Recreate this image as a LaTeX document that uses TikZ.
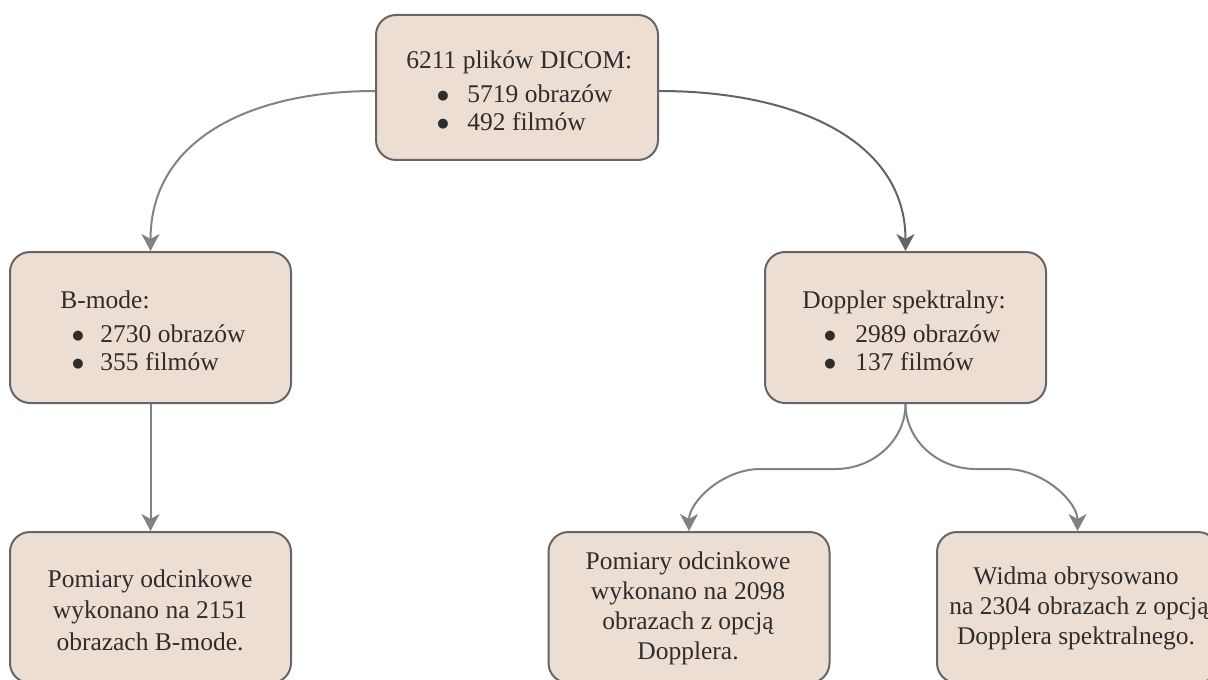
\documentclass[tikz,border=0pt]{standalone}
\usepackage{fontspec}
\setmainfont{Liberation Serif}
\newfontfamily\symfont{DejaVu Sans}
\usetikzlibrary{arrows.meta}
\definecolor{boxfill}{RGB}{237,222,212}
\definecolor{boxline}{RGB}{102,102,102}
\definecolor{connlight}{RGB}{130,130,130}
\definecolor{conndark}{RGB}{100,100,100}
\definecolor{txt}{RGB}{45,45,45}
\newcommand\bulitem[2]{\hspace*{#1}\makebox[#2][l]{\raisebox{1.5pt}{\symfont\fontsize{6.5pt}{6.5pt}\selectfont ●}}}
\tikzset{
  box/.style={draw=boxline, fill=boxfill, line width=1pt, rounded corners=10pt,
    minimum width=140.5pt, minimum height=75.5pt, inner sep=0pt},
  listtxt/.style={text=txt, inner sep=0pt, align=left, anchor=north west,
    font=\fontsize{12.75pt}{13.75pt}\selectfont},
  ctxt/.style={text=txt, inner sep=0pt, align=center, anchor=center,
    font=\fontsize{12.75pt}{15pt}\selectfont},
  conn/.style={draw=#1, line width=1pt,
    -{Stealth[length=8.5pt,width=9pt,inset=2.5pt,fill=#1]}},
}
\begin{document}
\begin{tikzpicture}[x=0.5pt,y=-0.5pt]
\useasboundingbox (0,0) rectangle (1208,679);
\clip (0,0) rectangle (1208,679);
% boxes
\node[box, minimum width=141pt, minimum height=72.5pt] (top) at (517,87.5) {};
\node[box] (bmode) at (150.5,327.5) {};
\node[box] (dop) at (905.5,327.5) {};
\node[box] (bl) at (150.5,607.5) {};
\node[box] (bm) at (689,607.5) {};
\node[box] (br) at (1077.5,607.5) {};
% texts
\node[listtxt] (toptext) at (406,50.6) {6211 plików DICOM:\\[3.25pt]\bulitem{15.5pt}{15pt}5719 obrazów\\\bulitem{15.5pt}{15pt}492 filmów};
\node[listtxt] (bmodetext) at (60,290.6) {B-mode:\\[3.25pt]\bulitem{6pt}{14pt}2730 obrazów\\\bulitem{6pt}{14pt}355 filmów};
\node[listtxt] (doptext) at (802,290.6) {Doppler spektralny:\\[3.25pt]\bulitem{11pt}{15.5pt}2989 obrazów\\\bulitem{11pt}{15.5pt}137 filmów};
\node[ctxt, font=\fontsize{12.75pt}{15.75pt}\selectfont] (bltext) at (150,610.3) {Pomiary odcinkowe\\wykonano na 2151\\obrazach B-mode.};
\node[ctxt] (bmtext) at (688,608.8) {Pomiary odcinkowe\\wykonano na 2098\\obrazach z opcją\\Dopplera.};
\node[ctxt] (brtext) at (1076,608) {Widma obrysowano\\\hspace*{3pt}na 2304 obrazach z opcją\\Dopplera spektralnego.};
% connectors
\draw[conn=connlight] ([yshift=-1.75pt]top.west) .. controls +(-124,0) and +(0,-112) .. (bmode.north);
\draw[conn=conndark] ([yshift=-1.75pt]top.east) .. controls +(136,0) and +(0,-111) .. (dop.north);
\draw[conn=connlight] (bmode.south) -- (bl.north);
\draw[conn=connlight] (dop.south) .. controls +(0,36) and +(38,0) .. ++(-70,65) -- ++(-75,0) .. controls +(-38,0) and +(0,-29) .. (bm.north);
\draw[conn=connlight] (dop.south) .. controls +(0,36) and +(-38,0) .. ++(70,65) -- ++(30,0) .. controls +(38,0) and +(0,-29) .. (br.north);
\end{tikzpicture}
\end{document}
